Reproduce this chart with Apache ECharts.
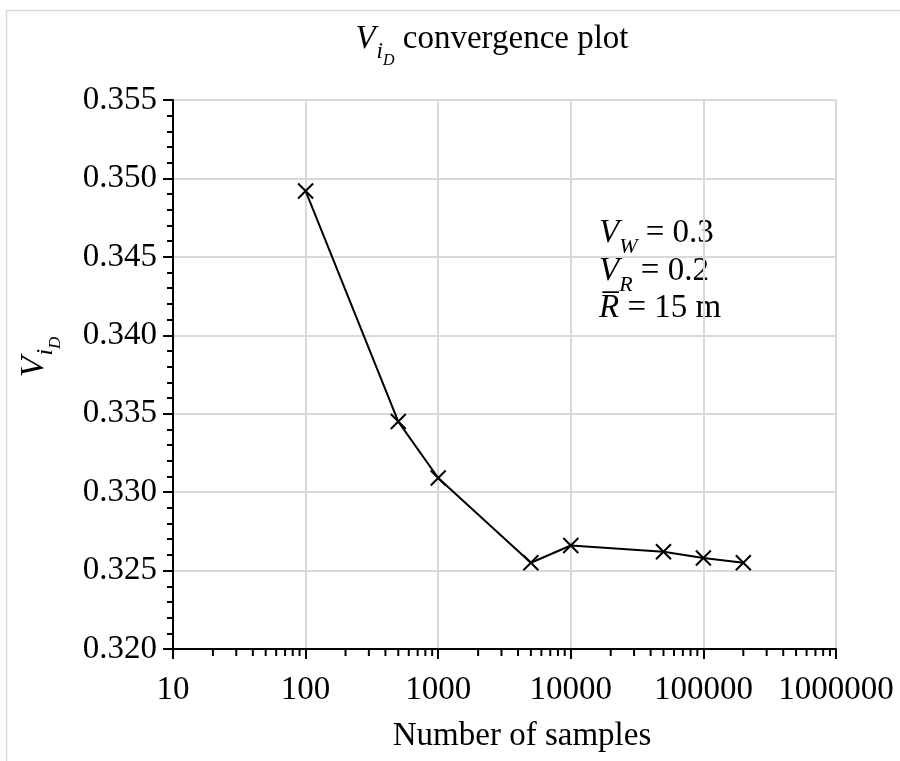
<!DOCTYPE html>
<html>
<head>
<meta charset="utf-8">
<script src="https://cdn.jsdelivr.net/npm/echarts@6/dist/echarts.min.js"></script>
<style>html,body{margin:0;padding:0;background:#fff}#c{width:900px;height:761px}</style>
</head>
<body>
<div id="c"></div>
<script>
const samples = [100, 500, 1000, 5000, 10000, 50000, 100000, 200000];
const vid = [0.3492, 0.3345, 0.3309, 0.3255, 0.3266, 0.3262, 0.3258, 0.3255];
const yTicks = [0.320, 0.325, 0.330, 0.335, 0.340, 0.345, 0.350, 0.355];
const xTicks = [10, 100, 1000, 10000, 100000, 1000000];
const xMinorTicks = [];
for (let d = 10; d < 1000000; d *= 10) { for (let k = 2; k <= 9; k++) xMinorTicks.push(k * d); }

const FF = '"Liberation Serif", "Times New Roman", serif';
const chart = echarts.init(document.getElementById('c'));

const subRich = (big, mid, small, p1, p2) => ({
  v: {fontFamily: FF, fontStyle: 'italic', fontSize: big, color: '#000', verticalAlign: 'bottom', padding: [0, 1, p1, 0]},
  i: {fontFamily: FF, fontStyle: 'italic', fontSize: mid, color: '#000', verticalAlign: 'bottom', padding: [0, 0, p2, 0]},
  d: {fontFamily: FF, fontStyle: 'italic', fontSize: small, color: '#000', verticalAlign: 'bottom', padding: [0, 0, 0, 0]},
  t: {fontFamily: FF, fontSize: big, color: '#000', verticalAlign: 'bottom', padding: [0, 0, p1, 0]}
});

const annRich = {
  v: {fontFamily: FF, fontStyle: 'italic', fontSize: 33, color: '#000', verticalAlign: 'bottom', padding: [0, 0, 8, 0]},
  s: {fontFamily: FF, fontStyle: 'italic', fontSize: 22, color: '#000', verticalAlign: 'bottom', padding: [0, 0, 0, 0]},
  t: {fontFamily: FF, fontSize: 33, color: '#000', verticalAlign: 'bottom', padding: [0, 0, 8, 0]}
};

chart.setOption({
  animation: false,
  backgroundColor: '#fff',
  grid: {left: 173, right: 64, top: 100, bottom: 112, containLabel: false},
  xAxis: {
    type: 'log', logBase: 10, min: 10, max: 1000000, splitNumber: 5,
    axisLine: {show: true, onZero: false, lineStyle: {color: '#000', width: 2}},
    axisTick: {show: true, inside: false, length: 10, lineStyle: {color: '#000', width: 2}},
    axisLabel: {fontFamily: FF, fontSize: 33, color: '#000', margin: 25,
      formatter: v => String(Math.round(v))},
    splitLine: {show: true, lineStyle: {color: '#d9d9d9', width: 2}}
  },
  yAxis: {
    type: 'value', min: 0.320, max: 0.355, interval: 0.005,
    axisLine: {show: true, lineStyle: {color: '#000', width: 2}},
    axisTick: {show: true, inside: false, length: 10, lineStyle: {color: '#000', width: 2}},
    minorTick: {show: true, splitNumber: 5, length: 6, lineStyle: {color: '#000', width: 2}},
    axisLabel: {fontFamily: FF, fontSize: 33, color: '#000', margin: 16,
      formatter: v => v.toFixed(3)},
    splitLine: {show: true, lineStyle: {color: '#d9d9d9', width: 2}}
  },
  series: [
    {
      type: 'line',
      data: samples.map((s, i) => [s, vid[i]]),
      lineStyle: {color: '#000', width: 2},
      symbol: 'path://M0,0L10,10M10,0L0,10',
      symbolSize: 15,
      itemStyle: {color: 'none', borderColor: '#000', borderWidth: 2},
      z: 5
    },
    {
      type: 'custom',
      silent: true,
      clip: false,
      z: 6,
      data: xMinorTicks.map(v => [v, yTicks[0]]),
      renderItem: (params, api) => {
        const p = api.coord([api.value(0), api.value(1)]);
        return {type: 'line', shape: {x1: p[0], y1: p[1], x2: p[0], y2: p[1] + 7},
          style: {stroke: '#000', lineWidth: 2}};
      }
    }
  ],
  graphic: [
    {type: 'rect', left: 4, top: 8, shape: {x: 0, y: 0, width: 1000, height: 1000}, silent: true,
      style: {fill: 'none', stroke: '#d9d9d9', lineWidth: 1.5}, z: -10},
    {type: 'text', x: 492, y: 69, silent: true,
      style: {text: '{v|V}{i|i}{d|D}{t| convergence plot}', rich: subRich(33, 23, 16, 13, 6),
        align: 'center', verticalAlign: 'bottom'}},
    {type: 'text', x: 522, y: 736, silent: true,
      style: {text: 'Number of samples', fontFamily: FF, fontSize: 33, fill: '#000',
        align: 'center', verticalAlign: 'middle'}},
    {type: 'text', x: 64, y: 357, rotation: Math.PI / 2, silent: true,
      style: {text: '{v|V}{i|i}{d|D}', rich: subRich(34, 24, 17, 13, 6),
        align: 'center', verticalAlign: 'bottom'}},
    {type: 'text', x: 599, y: 258, silent: true,
      style: {text: '{v|V}{s|W}{t| = 0.3}', rich: annRich, align: 'left', verticalAlign: 'bottom'}},
    {type: 'text', x: 599, y: 296, silent: true,
      style: {text: '{v|V}{s|R}{t| = 0.2}', rich: annRich, align: 'left', verticalAlign: 'bottom'}},
    {type: 'text', x: 599, y: 333, silent: true,
      style: {text: '{v|R\u0305}{t| = 15 m}', rich: annRich, align: 'left', verticalAlign: 'bottom'}}
  ]
});
</script>
</body>
</html>
